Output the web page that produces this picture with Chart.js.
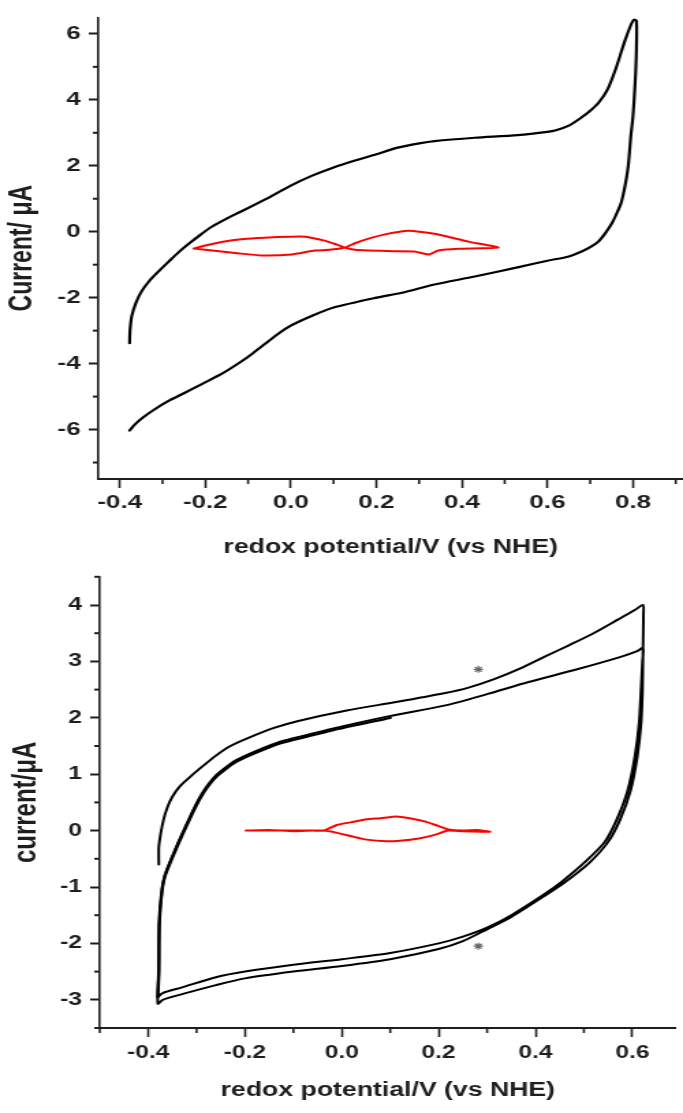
<!DOCTYPE html>
<html lang="en">
<head>
  <meta charset="UTF-8" />
  <title>Cyclic voltammograms</title>
  <script src="https://cdn.jsdelivr.net/npm/chart.js"></script>
  <style>
    body { margin: 0; background: #fff; width: 683px; height: 1113px; overflow: hidden; }
    .panel { position: absolute; left: 0; width: 683px; overflow: hidden; }
    /* the source figure is stretched sideways, so the canvases are too */
    canvas { transform-origin: 0 0; transform: scaleX(1.366); }
  </style>
</head>
<body>
  <div class="panel" style="top:0;height:560px"><canvas id="topChart" width="500" height="560"></canvas></div>
  <div class="panel" style="top:560px;height:553px"><canvas id="bottomChart" width="500" height="553"></canvas></div>

  <script>
    // ---- top panel: black CV + red CV ----
    const topCvX = [-0.377, -0.376, -0.372, -0.362, -0.349, -0.33, -0.309, -0.285, -0.262, -0.235, -0.21, -0.185, -0.15, -0.115, -0.06, 0.0, 0.05, 0.1, 0.15, 0.2, 0.25, 0.3, 0.336, 0.43, 0.53, 0.6, 0.62, 0.65, 0.68, 0.7, 0.72, 0.74, 0.76, 0.78, 0.796, 0.802, 0.808, 0.808, 0.805, 0.8, 0.795, 0.788, 0.773, 0.76, 0.75, 0.735, 0.719, 0.7, 0.68, 0.65, 0.6, 0.53, 0.43, 0.336, 0.26, 0.2, 0.1, 0.05, 0.0, -0.03, -0.06, -0.09, -0.115, -0.16, -0.208, -0.25, -0.286, -0.32, -0.345, -0.365, -0.377];
    const topCvY = [-3.38, -3.0, -2.56, -2.15, -1.81, -1.48, -1.2, -0.9, -0.62, -0.33, -0.08, 0.15, 0.4, 0.62, 0.98, 1.4, 1.7, 1.95, 2.16, 2.35, 2.55, 2.68, 2.75, 2.85, 2.93, 3.03, 3.08, 3.22, 3.47, 3.67, 3.92, 4.3, 4.95, 5.75, 6.3, 6.43, 6.4, 5.5, 4.5, 3.5, 2.9, 1.9, 0.9, 0.5, 0.24, -0.05, -0.3, -0.47, -0.6, -0.75, -0.88, -1.08, -1.36, -1.6, -1.85, -2.0, -2.3, -2.55, -2.85, -3.1, -3.4, -3.7, -3.93, -4.3, -4.62, -4.9, -5.13, -5.4, -5.63, -5.85, -6.03];

    const topRedX = [-0.227, -0.2, -0.162, -0.11, -0.061, 0.0, 0.033, 0.079, 0.105, 0.126, 0.15, 0.18, 0.24, 0.289, 0.322, 0.345, 0.392, 0.485, 0.415, 0.336, 0.275, 0.22, 0.182, 0.15, 0.126, 0.09, 0.056, 0.002, -0.068, -0.12, -0.162, -0.227];
    const topRedY = [-0.51, -0.42, -0.31, -0.22, -0.18, -0.15, -0.15, -0.27, -0.38, -0.48, -0.55, -0.57, -0.59, -0.6, -0.69, -0.57, -0.52, -0.48, -0.3, -0.06, 0.03, -0.08, -0.21, -0.35, -0.48, -0.55, -0.57, -0.69, -0.72, -0.66, -0.6, -0.51];

    const topXMajor = [-0.4, -0.2, 0.0, 0.2, 0.4, 0.6, 0.8];
    const topXLabels = ['-0.4', '-0.2', '0.0', '0.2', '0.4', '0.6', '0.8'];
    const topXMinor = [-0.3, -0.1, 0.1, 0.3, 0.5, 0.7, 0.9];
    const topYMajor = [-6, -4, -2, 0, 2, 4, 6];
    const topYLabels = ['-6', '-4', '-2', '0', '2', '4', '6'];
    const topYMinor = [-7, -5, -3, -1, 1, 3, 5];

    // ---- bottom panel: black CV (2.5 cycles) + red CV + asterisks ----
    const bottomCvX = [
      -0.378, -0.378, -0.374, -0.368, -0.36, -0.35, -0.335, -0.315, -0.296, -0.26, -0.23, -0.194, -0.14, -0.092, 0.01, 0.112, 0.214, 0.26, 0.316, 0.37, 0.418, 0.47, 0.52, 0.57, 0.605, 0.622,
      0.623, 0.622, 0.621, 0.618, 0.61, 0.596, 0.575, 0.55, 0.51, 0.46, 0.42, 0.35, 0.3, 0.25, 0.2, 0.1, 0.0, -0.1, -0.2, -0.26, -0.33, -0.37, -0.38,
      -0.378, -0.377, -0.372, -0.365, -0.343, -0.322, -0.305, -0.29, -0.275, -0.26, -0.24, -0.22, -0.18, -0.126, -0.07, -0.024, 0.098, 0.214, 0.3, 0.384, 0.486, 0.576, 0.61, 0.622,
      0.621, 0.618, 0.614, 0.605, 0.59, 0.568, 0.543, 0.503, 0.455, 0.418, 0.35, 0.3, 0.25, 0.2, 0.1, 0.0, -0.1, -0.2, -0.26, -0.33, -0.37, -0.38
    ];
    const bottomCvY = [
      -0.6, -0.3, -0.05, 0.2, 0.42, 0.6, 0.78, 0.94, 1.08, 1.33, 1.5, 1.64, 1.82, 1.94, 2.13, 2.28, 2.44, 2.53, 2.69, 2.88, 3.08, 3.29, 3.5, 3.74, 3.91, 4.0,
      3.85, 3.2, 2.5, 1.9, 1.3, 0.7, 0.2, -0.2, -0.58, -0.92, -1.15, -1.53, -1.75, -1.96, -2.1, -2.28, -2.4, -2.5, -2.62, -2.74, -2.9, -3.0, -3.07,
      -2.5, -1.65, -1.1, -0.78, -0.31, 0.09, 0.4, 0.64, 0.83, 0.98, 1.12, 1.24, 1.4, 1.58, 1.7, 1.8, 2.03, 2.22, 2.42, 2.63, 2.86, 3.08, 3.18, 3.24,
      3.0, 2.5, 1.9, 1.3, 0.7, 0.2, -0.2, -0.55, -0.9, -1.13, -1.5, -1.72, -1.88, -2.0, -2.17, -2.28, -2.38, -2.5, -2.6, -2.78, -2.88, -2.95
    ];
    // last half cycle, stops at 0.1 V on top of the inner trace
    const bottomTailX = [-0.38, -0.378, -0.377, -0.372, -0.365, -0.343, -0.322, -0.305, -0.29, -0.275, -0.26, -0.24, -0.22, -0.18, -0.126, -0.07, -0.024, 0.1];
    const bottomTailY = [-2.95, -2.5, -1.65, -1.1, -0.8, -0.34, 0.06, 0.37, 0.61, 0.8, 0.95, 1.09, 1.21, 1.37, 1.55, 1.67, 1.77, 2.0];

    const bottomRedX = [-0.198, -0.15, -0.1, -0.06, -0.037, -0.01, 0.02, 0.051, 0.08, 0.112, 0.14, 0.173, 0.2, 0.22, 0.25, 0.28, 0.306, 0.25, 0.22, 0.19, 0.159, 0.12, 0.092, 0.051, 0.02, -0.01, -0.037, -0.1, -0.198];
    const bottomRedY = [0.0, 0.01, -0.01, 0.0, 0.0, 0.1, 0.15, 0.2, 0.22, 0.25, 0.22, 0.16, 0.08, 0.02, 0.0, 0.01, -0.02, -0.01, 0.0, -0.08, -0.14, -0.18, -0.19, -0.16, -0.1, -0.04, 0.0, 0.0, 0.0];

    const starX = [0.282, 0.282];
    const starY = [2.86, -2.05];

    const bottomXMajor = [-0.4, -0.2, 0.0, 0.2, 0.4, 0.6];
    const bottomXLabels = ['-0.4', '-0.2', '0.0', '0.2', '0.4', '0.6'];
    const bottomXMinor = [-0.5, -0.3, -0.1, 0.1, 0.3, 0.5];
    const bottomYMajor = [-3, -2, -1, 0, 1, 2, 3, 4];
    const bottomYLabels = ['-3', '-2', '-1', '0', '1', '2', '3', '4'];
    const bottomYMinor = [-3.5, -2.5, -1.5, -0.5, 0.5, 1.5, 2.5, 3.5, 4.5];

    const ink = '#1e1e1e';
    const family = '"Liberation Sans", Arial, sans-serif';

    const pts = (xs, ys) => xs.map((x, i) => ({ x: x, y: ys[i] }));

    // short minor ticks, drawn outward from the axis lines
    const minorTicks = {
      id: 'minorTicks',
      afterDraw(chart, args, opts) {
        const ctx = chart.ctx;
        const sx = chart.scales.x, sy = chart.scales.y;
        ctx.save();
        ctx.strokeStyle = ink;
        ctx.lineWidth = 1.6;
        opts.xMinor.forEach(v => {
          const px = sx.getPixelForValue(v);
          ctx.beginPath(); ctx.moveTo(px, sx.top); ctx.lineTo(px, sx.top + 5); ctx.stroke();
        });
        ctx.lineWidth = 2;
        opts.yMinor.forEach(v => {
          const py = sy.getPixelForValue(v);
          ctx.beginPath(); ctx.moveTo(sy.right, py); ctx.lineTo(sy.right - 4, py); ctx.stroke();
        });
        ctx.restore();
      }
    };

    function makeChart(id, cfg) {
      return new Chart(document.getElementById(id), {
        type: 'line',
        data: { datasets: cfg.datasets },
        options: {
          responsive: false,
          animation: false,
          devicePixelRatio: 1,
          layout: { padding: { top: cfg.top, left: 0, right: 0, bottom: 0 } },
          elements: { point: { radius: 0 }, line: { tension: 0.25, borderJoinStyle: 'round', borderCapStyle: 'round' } },
          plugins: {
            legend: { display: false },
            tooltip: { enabled: false },
            minorTicks: { xMinor: cfg.xMinor, yMinor: cfg.yMinor }
          },
          scales: {
            x: {
              type: 'linear',
              min: cfg.xMin, max: cfg.xMax,
              afterBuildTicks: s => { s.ticks = cfg.xMajor.map(v => ({ value: v })); },
              afterFit: s => { s.height = cfg.xAxisH; },
              border: { display: true, color: ink, width: 2 },
              grid: { drawOnChartArea: false, drawTicks: true, tickLength: 9, tickWidth: 1.6, tickColor: ink },
              ticks: {
                autoSkip: false, maxRotation: 0, padding: cfg.xPad, color: ink,
                font: { family: family, size: cfg.tickSize, weight: 'bold' },
                callback: (v, i) => cfg.xLabels[i]
              },
              title: {
                display: true, text: 'redox potential/V (vs NHE)', color: ink,
                font: { family: family, size: 19.5, weight: 'bold' },
                padding: { top: 0, bottom: cfg.xTitlePad }
              }
            },
            y: {
              type: 'linear',
              min: cfg.yMin, max: cfg.yMax,
              afterBuildTicks: s => { s.ticks = cfg.yMajor.map(v => ({ value: v })); },
              afterFit: s => { s.width = cfg.yAxisW; },
              border: { display: true, color: ink, width: 1.6 },
              grid: { drawOnChartArea: false, drawTicks: true, tickLength: 7, tickWidth: 2, tickColor: ink },
              ticks: {
                autoSkip: false, padding: 6, color: ink,
                font: { family: family, size: cfg.tickSize, weight: 'bold' },
                callback: (v, i) => cfg.yLabels[i]
              },
              title: {
                display: true, text: cfg.yTitle, color: ink,
                font: { family: family, size: cfg.yTitleSize, weight: 'bold' },
                padding: { top: cfg.yTitlePad, bottom: 0 }
              }
            }
          }
        },
        plugins: [minorTicks]
      });
    }

    makeChart('topChart', {
      top: 16, xAxisH: 81, yAxisW: 72,
      xMin: -0.45, xMax: 0.917, yMin: -7.5, yMax: 6.5,
      xMajor: topXMajor, xLabels: topXLabels, xMinor: topXMinor,
      yMajor: topYMajor, yLabels: topYLabels, yMinor: topYMinor,
      tickSize: 19, xPad: 3, xTitlePad: 1,
      yTitle: 'Current/ μA', yTitleSize: 23, yTitlePad: 3,
      datasets: [
        { data: pts(topCvX, topCvY), borderColor: '#000', borderWidth: 2.2 },
        { data: pts(topRedX, topRedY), borderColor: '#ff0000', borderWidth: 2, tension: 0.15 }
      ]
    });

    makeChart('bottomChart', {
      top: 7, xAxisH: 85, yAxisW: 73,
      xMin: -0.5, xMax: 0.69, yMin: -3.5, yMax: 4.5,
      xMajor: bottomXMajor, xLabels: bottomXLabels, xMinor: bottomXMinor,
      yMajor: bottomYMajor, yLabels: bottomYLabels, yMinor: bottomYMinor,
      tickSize: 18, xPad: 5, xTitlePad: 11,
      yTitle: 'current/μA', yTitleSize: 24, yTitlePad: 5,
      datasets: [
        { data: pts(bottomCvX, bottomCvY), borderColor: '#000', borderWidth: 2 },
        { data: pts(bottomTailX, bottomTailY), borderColor: '#000', borderWidth: 2.4 },
        { data: pts(bottomRedX, bottomRedY), borderColor: '#ff0000', borderWidth: 2, tension: 0.15 },
        { data: pts(starX, starY), showLine: false, pointStyle: 'star', pointRadius: 3.5, borderColor: '#666', borderWidth: 1.2 }
      ]
    });
  </script>
</body>
</html>
